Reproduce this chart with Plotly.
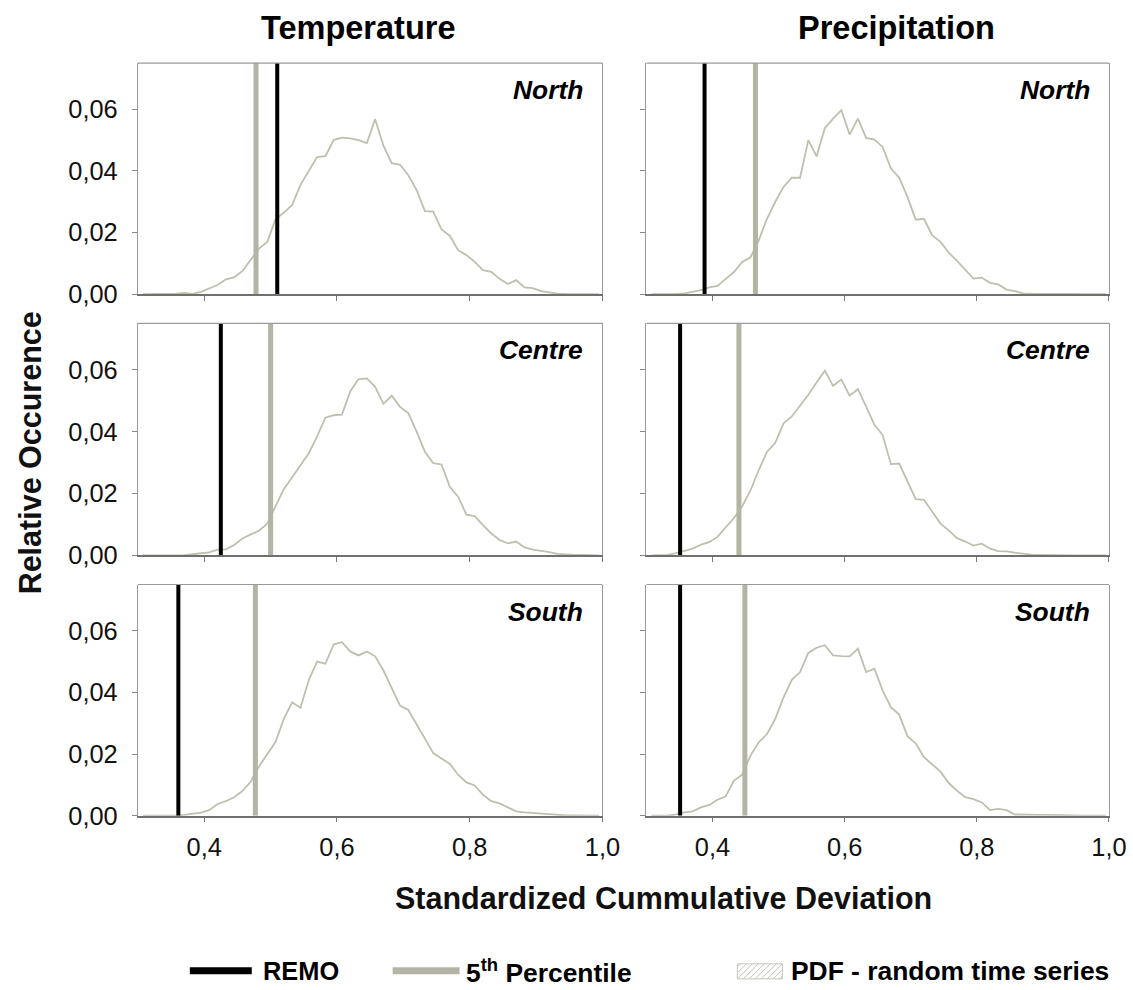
import plotly.graph_objects as go
from plotly.subplots import make_subplots

# ---------------- data ----------------
x_bins = [0.3075, 0.32, 0.3325, 0.345, 0.3575, 0.37, 0.3825, 0.395,
          0.4075, 0.42, 0.4325, 0.445, 0.4575, 0.47, 0.4825, 0.495,
          0.5075, 0.52, 0.5325, 0.545, 0.5575, 0.57, 0.5825, 0.595,
          0.6075, 0.62, 0.6325, 0.645, 0.6575, 0.67, 0.6825, 0.695,
          0.7075, 0.72, 0.7325, 0.745, 0.7575, 0.77, 0.7825, 0.795,
          0.8075, 0.82, 0.8325, 0.845, 0.8575, 0.87, 0.8825, 0.895,
          0.9075, 0.92, 0.9325, 0.945, 0.9575, 0.97, 0.9825, 0.995]

temp_north = [0, 0, 0, 0.0001, 0.0002, 0.0004, 0.0001, 0.0008,
              0.0018, 0.003, 0.0048, 0.0055, 0.0075, 0.011, 0.0148, 0.017,
              0.0244, 0.0265, 0.029, 0.0355, 0.040, 0.0445, 0.0448, 0.050,
              0.0508, 0.0506, 0.050, 0.049, 0.0568, 0.0482, 0.0425, 0.042,
              0.0386, 0.0338, 0.027, 0.0268, 0.021, 0.019, 0.0143, 0.0127,
              0.0105, 0.0078, 0.0073, 0.005, 0.0033, 0.0046, 0.0022, 0.002,
              0.001, 0.0005, 0.0002, 0.0001, 0.0001, 0.0001, 0.0001, 0]
temp_centre = [0, 0, 0, 0, 0, 0.0001, 0.0004, 0.0007,
               0.001, 0.0019, 0.002, 0.0034, 0.0055, 0.0068, 0.008, 0.0103,
               0.0158, 0.0215, 0.0253, 0.0293, 0.033, 0.0385, 0.0445, 0.0453,
               0.0455, 0.053, 0.057, 0.0572, 0.0545, 0.049, 0.0516, 0.048,
               0.046, 0.040, 0.0335, 0.0298, 0.0294, 0.0222, 0.019, 0.0132,
               0.0127, 0.0098, 0.0071, 0.005, 0.0039, 0.0045, 0.0026, 0.0019,
               0.0016, 0.0011, 0.0005, 0.0003, 0.0002, 0.0002, 0.0001, 0]
temp_south = [0, 0, 0, 0, 0.0001, 0.0003, 0.0007, 0.001,
              0.0018, 0.0038, 0.0047, 0.006, 0.008, 0.011, 0.016, 0.020,
              0.024, 0.0315, 0.0368, 0.035, 0.044, 0.050, 0.0493, 0.0556,
              0.0563, 0.0533, 0.052, 0.0533, 0.0517, 0.0471, 0.0412, 0.0357,
              0.0343, 0.0298, 0.025, 0.0203, 0.0186, 0.0168, 0.0133, 0.0108,
              0.0098, 0.0068, 0.0047, 0.004, 0.0027, 0.0014, 0.0011, 0.0009,
              0.0008, 0.0005, 0.0002, 0.0001, 0.0001, 0, 0, 0]
prec_north = [0, 0, 0, 0.0001, 0.0003, 0.0008, 0.0013, 0.0022,
              0.0027, 0.005, 0.0072, 0.0105, 0.012, 0.0175, 0.0245, 0.030,
              0.0348, 0.0378, 0.0378, 0.050, 0.0447, 0.0539, 0.057, 0.0597,
              0.0518, 0.057, 0.0507, 0.0502, 0.0478, 0.0408, 0.0378, 0.0316,
              0.0242, 0.0245, 0.0191, 0.017, 0.0135, 0.0108, 0.0078, 0.0051,
              0.0054, 0.0037, 0.0032, 0.0015, 0.001, 0.0003, 0.0002, 0.0001,
              0.0001, 0.0001, 0.0001, 0, 0, 0, 0, 0]
prec_centre = [0, 0, 0.0002, 0.0008, 0.0014, 0.0022, 0.0035, 0.0043,
               0.006, 0.0092, 0.0121, 0.0159, 0.021, 0.0276, 0.0335, 0.0364,
               0.0427, 0.0449, 0.0484, 0.0519, 0.0559, 0.0597, 0.0548, 0.0568,
               0.0516, 0.0537, 0.0481, 0.0422, 0.0389, 0.0295, 0.0297, 0.0238,
               0.0182, 0.018, 0.014, 0.0103, 0.0081, 0.0056, 0.0045, 0.0032,
               0.0038, 0.0022, 0.0014, 0.0013, 0.0009, 0.0005, 0.0003, 0.0002,
               0.0001, 0.0001, 0.0001, 0, 0, 0, 0, 0]
prec_south = [0, 0, 0, 0.0004, 0.0011, 0.0014, 0.0027, 0.0035,
              0.0052, 0.0063, 0.0114, 0.0133, 0.0195, 0.0238, 0.0265, 0.0314,
              0.0384, 0.0441, 0.0466, 0.0528, 0.0545, 0.0553, 0.052, 0.0518,
              0.0517, 0.0542, 0.0466, 0.0477, 0.0406, 0.0352, 0.0328, 0.0258,
              0.0235, 0.019, 0.0168, 0.0143, 0.0106, 0.0081, 0.006, 0.0054,
              0.0043, 0.0018, 0.0022, 0.0018, 0.0004, 0.0003, 0.0003, 0.0003,
              0.0003, 0.0003, 0.0002, 0.0001, 0, 0, 0, 0]

regions = ["North", "Centre", "South"]
columns = ["Temperature", "Precipitation"]
remo_temp = [0.51, 0.425, 0.361]
p5_temp = [0.478, 0.50, 0.477]
remo_prec = [0.388, 0.351, 0.351]
p5_prec = [0.465, 0.44, 0.449]
x_ticks = [0.4, 0.6, 0.8, 1.0]
y_ticks = [0.0, 0.02, 0.04, 0.06]
y_top = 0.075

# ---------------- figure ----------------
W, H = 1133, 990
S = 0.985  # the photographed page comes out ~1.5 % smaller; compensate


def fx(p):
    return (p / S) / W


def fy(p):
    return 1 - (p / S) / H


def fs(v):
    return round(v / S, 1)


FONT = "Arial, 'Liberation Sans', Helvetica, sans-serif"
PDF_COL = "#bfbfb0"
P5_COL = "#b3b4a3"

fig = make_subplots(rows=3, cols=2)

pdfs = {(1, 1): temp_north, (2, 1): temp_centre, (3, 1): temp_south,
        (1, 2): prec_north, (2, 2): prec_centre, (3, 2): prec_south}
remo = {1: remo_temp, 2: remo_prec}
p5 = {1: p5_temp, 2: p5_prec}

for (r, c), ys in pdfs.items():
    fig.add_trace(go.Scatter(x=x_bins, y=ys, mode="lines",
                             line=dict(color=PDF_COL, width=1.8),
                             showlegend=False, hoverinfo="skip"), row=r, col=c)
    fig.add_trace(go.Scatter(x=[p5[c][r - 1]] * 2, y=[0, y_top], mode="lines",
                             line=dict(color=P5_COL, width=5),
                             showlegend=False), row=r, col=c)
    fig.add_trace(go.Scatter(x=[remo[c][r - 1]] * 2, y=[0, y_top], mode="lines",
                             line=dict(color="black", width=4),
                             showlegend=False), row=r, col=c)

xpix = {1: (138, 603), 2: (647, 1110)}
ypix = {1: (63, 294), 2: (323, 555), 3: (584, 815)}

shapes = []
annotations = []
for r in (1, 2, 3):
    for c in (1, 2):
        idx = (r - 1) * 2 + c
        sx = "" if idx == 1 else str(idx)
        t, b = ypix[r]
        l, rr = xpix[c]
        fig.layout["xaxis" + sx].update(
            domain=[fx(l), fx(rr)], range=[0.3, 1.0], tickvals=x_ticks, tickformat=".1f",
            showticklabels=(r == 3), ticks="outside", ticklen=5, tickcolor="#777",
            showline=True, linecolor="#707070", linewidth=1.5, showgrid=False,
            zeroline=False, tickfont=dict(size=fs(25), family=FONT, color="#111"),
            ticklabelstandoff=3)
        fig.layout["yaxis" + sx].update(
            domain=[fy(b), fy(t)], range=[0, y_top], tickvals=y_ticks,
            tickformat=".2f", showticklabels=(c == 1), ticks="outside", ticklen=5,
            tickcolor="#888", showline=True, linecolor="#9a9a9a", linewidth=1.2,
            mirror=True, showgrid=False, zeroline=False,
            tickfont=dict(size=fs(25), family=FONT, color="#111"), ticklabelstandoff=9)
        # top border
        shapes.append(dict(type="line", xref=f"x{sx} domain", yref=f"y{sx} domain",
                           x0=0, x1=1, y0=1, y1=1,
                           line=dict(color="#9a9a9a", width=1.2)))
        annotations.append(dict(text=f"<b><i>{regions[r - 1]}</i></b>",
                                xref="paper", yref="paper",
                                x=fx(rr - 17), y=fy(t + 27), xanchor="right",
                                yanchor="middle", showarrow=False,
                                font=dict(size=fs(26), family=FONT, color="black")))

# column titles
for c, cx in ((1, 358), (2, 897)):
    annotations.append(dict(text=f"<b>{columns[c - 1]}</b>", xref="paper", yref="paper",
                            x=fx(cx), y=fy(28), xanchor="center", yanchor="middle",
                            showarrow=False,
                            font=dict(size=fs(32), family=FONT, color="black")))
# axis titles
annotations.append(dict(text="<b>Standardized Cummulative Deviation</b>", xref="paper",
                        yref="paper", x=fx(664), y=fy(897), xanchor="center",
                        yanchor="middle", showarrow=False,
                        font=dict(size=fs(30), family=FONT, color="#111")))
annotations.append(dict(text="<b>Relative Occurence</b>", xref="paper", yref="paper",
                        x=fx(30), y=fy(452), xanchor="center", yanchor="middle",
                        textangle=-90, showarrow=False,
                        font=dict(size=fs(30), family=FONT, color="#111")))

# legend (manual)
LYP = 970
shapes.append(dict(type="line", xref="paper", yref="paper", x0=fx(190), x1=fx(252),
                   y0=fy(LYP), y1=fy(LYP), line=dict(color="black", width=7)))
annotations.append(dict(text="<b>REMO</b>", xref="paper", yref="paper", x=fx(261),
                        y=fy(LYP), xanchor="left", yanchor="middle", showarrow=False,
                        font=dict(size=fs(25), family=FONT, color="black")))
shapes.append(dict(type="line", xref="paper", yref="paper", x0=fx(393), x1=fx(460),
                   y0=fy(LYP), y1=fy(LYP), line=dict(color=P5_COL, width=7)))
annotations.append(dict(text="<b>5<sup>th</sup> Percentile</b>", xref="paper", yref="paper",
                        x=fx(464), y=fy(LYP), xanchor="left", yanchor="middle",
                        showarrow=False,
                        font=dict(size=fs(26), family=FONT, color="black")))
rx0, rx1, ry0, ry1 = 738, 783, 963, 978
shapes.append(dict(type="rect", xref="paper", yref="paper", x0=fx(rx0), x1=fx(rx1),
                   y0=fy(ry1), y1=fy(ry0),
                   line=dict(color="#c4c4b8", width=1), fillcolor="white"))
for k in range(10):
    a = rx0 - 12 + k * 6
    x0p, x1p = a, a + 15
    y0p, y1p = ry1, ry0
    if x0p < rx0:
        y0p = ry1 - (rx0 - x0p)
        x0p = rx0
    if x1p > rx1:
        y1p = ry0 + (x1p - rx1)
        x1p = rx1
    if x1p <= x0p:
        continue
    shapes.append(dict(type="line", xref="paper", yref="paper", x0=fx(x0p), x1=fx(x1p),
                       y0=fy(y0p), y1=fy(y1p),
                       line=dict(color="#c4c4b8", width=1)))
annotations.append(dict(text="<b>PDF - random time series</b>", xref="paper", yref="paper",
                        x=fx(790), y=fy(LYP), xanchor="left", yanchor="middle",
                        showarrow=False,
                        font=dict(size=fs(26), family=FONT, color="black")))

fig.update_layout(width=W, height=H, margin=dict(l=0, r=0, t=0, b=0),
                  paper_bgcolor="white", plot_bgcolor="white", separators=", ",
                  showlegend=False, shapes=shapes, annotations=annotations,
                  font=dict(family=FONT))

post = ("document.documentElement.style.overflow='hidden';"
        "document.body.style.margin='0';document.body.style.overflow='hidden';"
        "var d=document.getElementById('{plot_id}');"
        "d.style.position='fixed';d.style.left='0px';d.style.top='0px';")

fig.write_html("out.html", post_script=post, config={"displayModeBar": False})
